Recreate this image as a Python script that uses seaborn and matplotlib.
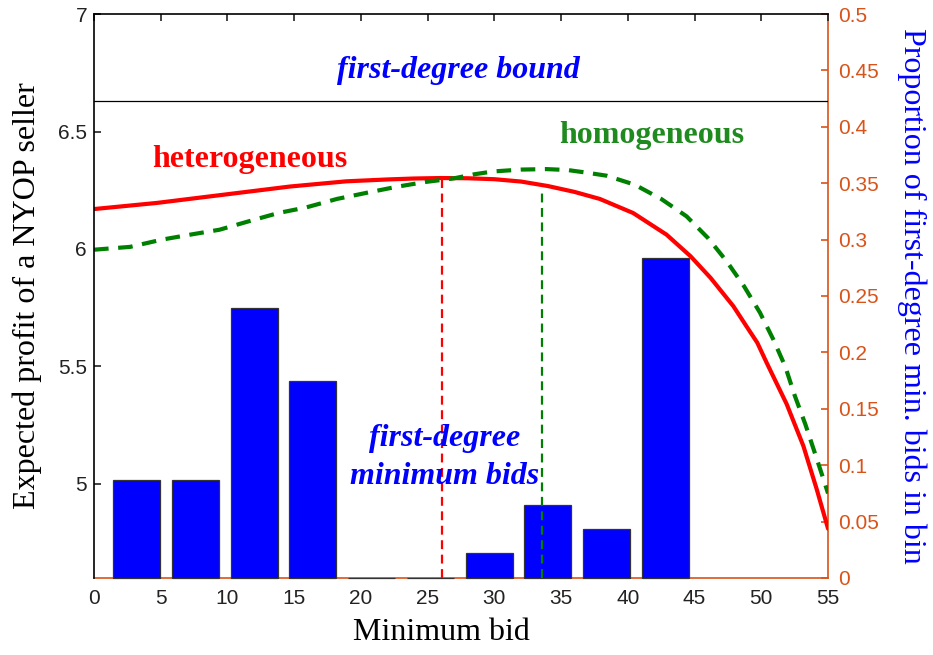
import matplotlib
matplotlib.use('Agg')
import matplotlib.pyplot as plt
import seaborn as sns
from matplotlib.ticker import FormatStrFormatter, MultipleLocator

# expected profit curves
het_x = [0, 4.7, 9.7, 14.7, 18.9, 22, 24, 26, 28, 30, 32, 34, 36, 37.9, 40.4, 42.9, 44.7, 46.2,
         47.9, 48.9, 49.7, 50.4, 51.9, 53.15, 54.15, 55]
het_y = [6.170, 6.196, 6.231, 6.266, 6.288, 6.296, 6.300, 6.302, 6.301, 6.297, 6.287, 6.268, 6.243,
         6.213, 6.153, 6.061, 5.969, 5.877, 5.757, 5.670, 5.601, 5.516, 5.340, 5.162, 4.978, 4.810]

hom_x = [0, 2.7, 5.1, 7.2, 9.4, 11.6, 13.8, 15.9, 18.2, 20.5, 22.7, 24.8, 26.9, 28.5, 29.9, 32, 33.9,
         35.5, 36.9, 38.4, 40.5, 42.5, 44.4, 46, 47.4, 48.7, 49.9, 50.9, 51.8, 52.5, 53.3, 54, 54.7, 55]
hom_y = [5.997, 6.009, 6.040, 6.061, 6.082, 6.118, 6.153, 6.177, 6.213, 6.240, 6.265, 6.285, 6.300,
         6.318, 6.330, 6.338, 6.340, 6.336, 6.325, 6.312, 6.274, 6.213, 6.139, 6.047, 5.948, 5.842,
         5.729, 5.615, 5.499, 5.377, 5.254, 5.134, 5.013, 4.960]

bound = 6.63
opt_het_x, opt_het_y = 26.1, 6.30
opt_hom_x, opt_hom_y = 33.6, 6.26

# histogram of first-degree minimum bids
bin_centers = [3.2, 7.6, 12.0, 16.4, 20.8, 25.2, 29.6, 34.0, 38.4, 42.8]
bin_props = [0.087, 0.087, 0.239, 0.175, 0.0, 0.0, 0.022, 0.065, 0.043, 0.284]

x_ticks = list(range(0, 60, 5))

orange = '#D95319'
serif = 'Liberation Serif'

sns.set_style('white')
plt.rcParams['font.family'] = ['Liberation Sans', 'DejaVu Sans']

fig, ax = plt.subplots(figsize=(9.33, 6.55), dpi=100)
fig.subplots_adjust(left=0.1008, right=0.8875, bottom=0.1176, top=0.9786)
ax2 = ax.twinx()

# bars on right axis
sns.barplot(x=bin_centers, y=bin_props, native_scale=True, width=0.8, color='#0000FF',
            saturation=1, edgecolor='#333333', linewidth=0.9, ax=ax2)
for p in ax2.patches:
    p.set_zorder(3)
    p.set_clip_on(False)
ax2.set_ylim(0, 0.5)
ax2.yaxis.set_major_locator(MultipleLocator(0.05))
ax2.yaxis.set_major_formatter(FormatStrFormatter('%g'))
ax2.tick_params(axis='y', direction='in', colors=orange, labelsize=15, length=5, width=1.2, pad=7)
ax2.set_ylabel('Proportion of first-degree min. bids in bin', color='blue', fontsize=23,
               family=serif, rotation=270, va='center')
ax2.yaxis.set_label_coords(1.1144, 0.5)
for s in ['left', 'top']:
    ax2.spines[s].set_visible(False)
for s in ['right', 'bottom']:
    ax2.spines[s].set_color(orange)
    ax2.spines[s].set_linewidth(1.2)

# curves on left axis, drawn above the bars
ax.set_zorder(ax2.get_zorder() + 1)
ax.patch.set_visible(False)
sns.lineplot(x=het_x, y=het_y, color='red', lw=3, ax=ax)
sns.lineplot(x=hom_x, y=hom_y, color='green', lw=3, linestyle=(0, (3.5, 2.3)), ax=ax)
ax.axhline(bound, color='black', lw=0.9)
ax.vlines(opt_het_x, 4.6, opt_het_y, color='red', lw=1.6, linestyles=(0, (4, 2.5)))
ax.vlines(opt_hom_x, 4.6, opt_hom_y, color='green', lw=1.6, linestyles=(0, (4, 2.5)))

ax.text(27.3, 6.728, 'first-degree bound', color='blue', fontsize=23, family=serif,
        weight='bold', style='italic', ha='center', va='baseline')
ax.text(11.7, 6.35, 'heterogeneous', color='red', fontsize=23, family=serif,
        weight='bold', ha='center', va='baseline')
ax.text(41.8, 6.452, 'homogeneous', color='#1f8b1f', fontsize=23, family=serif,
        weight='bold', ha='center', va='baseline')
ax.text(26.3, 5.16, 'first-degree', color='blue', fontsize=23, family=serif,
        weight='bold', style='italic', ha='center', va='baseline')
ax.text(26.3, 5.0, 'minimum bids', color='blue', fontsize=23, family=serif,
        weight='bold', style='italic', ha='center', va='baseline')

ax.set_xlim(0, 55)
ax.set_ylim(4.6, 7)
ax.set_xticks(x_ticks)
ax.set_yticks([5, 5.5, 6, 6.5, 7])
ax.yaxis.set_major_formatter(FormatStrFormatter('%g'))
ax.tick_params(axis='both', direction='in', colors='#222222', labelsize=15, length=5, width=1.2)
ax.tick_params(axis='x', top=True, pad=8)
ax.tick_params(axis='y', pad=5)
ax.set_xlabel('Minimum bid', fontsize=23, family=serif, color='black', va='center')
ax.xaxis.set_label_coords(0.473, -0.096)
ax.set_ylabel('Expected profit of a NYOP seller', fontsize=23, family=serif, color='black', va='center')
ax.yaxis.set_label_coords(-0.0913, 0.5)
ax.spines['right'].set_visible(False)
ax.spines['bottom'].set_visible(False)
ax.spines['left'].set_color('black')
ax.spines['top'].set_color('black')
for s in ax.spines.values():
    s.set_linewidth(1.2)

plt.savefig('out.png', dpi=100)
